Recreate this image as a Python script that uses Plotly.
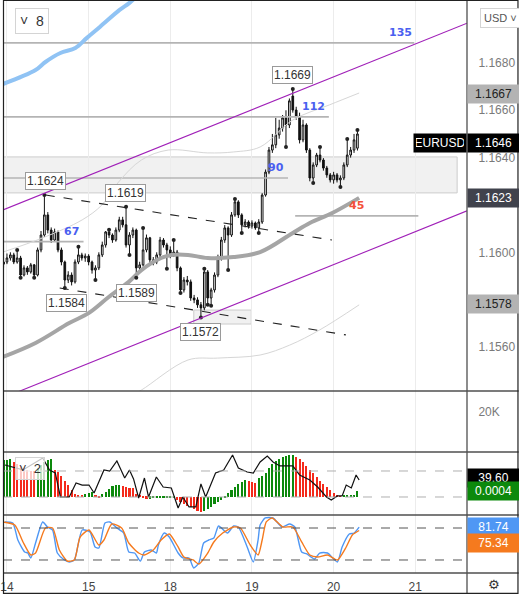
import plotly.graph_objects as go

# ---------------- candles (hourly; index 0 = start of day 14) ----------------
candle_idx = list(range(-1, 104))
opens = [1.15950, 1.15959, 1.15976, 1.15989, 1.15959, 1.15976, 1.15904, 1.15934, 1.15917, 1.15947,
         1.15904, 1.16010, 1.16073, 1.16158, 1.16094, 1.16052, 1.16086, 1.16010, 1.15959, 1.15883,
         1.15904, 1.15875, 1.15959, 1.15989, 1.15976, 1.15984, 1.15959, 1.15925, 1.15934, 1.15989,
         1.16031, 1.16086, 1.16073, 1.16052, 1.16094, 1.16137, 1.16116, 1.16031, 1.16073, 1.16094,
         1.15934, 1.15947, 1.16010, 1.16061, 1.15968, 1.15959, 1.15989, 1.16052, 1.16031, 1.16010,
         1.15989, 1.16001, 1.15934, 1.15841, 1.15883, 1.15875, 1.15807, 1.15799, 1.15778, 1.15765,
         1.15917, 1.15807, 1.15841, 1.15904, 1.15976, 1.16052, 1.16103, 1.16073, 1.16158, 1.16213,
         1.16158, 1.16116, 1.16128, 1.16111, 1.16124, 1.16103, 1.16128, 1.16242, 1.16339, 1.16432,
         1.16454, 1.16496, 1.16525, 1.16568, 1.16538, 1.16660, 1.16601, 1.16575, 1.16475, 1.16538,
         1.16432, 1.16314, 1.16369, 1.16411, 1.16390, 1.16356, 1.16327, 1.16306, 1.16327, 1.16306,
         1.16314, 1.16369, 1.16411, 1.16432, 1.16440]
highs = [1.15980, 1.15995, 1.16000, 1.15998, 1.16010, 1.15985, 1.15945, 1.15942, 1.15955, 1.15950,
         1.16020, 1.16090, 1.16242, 1.16170, 1.16105, 1.16100, 1.16092, 1.16020, 1.15965, 1.15920,
         1.15915, 1.15970, 1.16023, 1.15998, 1.15995, 1.15992, 1.15965, 1.15945, 1.16000, 1.16045,
         1.16090, 1.16095, 1.16080, 1.16105, 1.16150, 1.16150, 1.16192, 1.16085, 1.16105, 1.16100,
         1.15960, 1.16103, 1.16075, 1.16065, 1.15980, 1.16000, 1.16065, 1.16060, 1.16040, 1.16025,
         1.16052, 1.16010, 1.15940, 1.15895, 1.15900, 1.15885, 1.15820, 1.15810, 1.15790, 1.15930,
         1.15925, 1.15850, 1.15915, 1.15990, 1.16065, 1.16115, 1.16110, 1.16170, 1.16225, 1.16220,
         1.16165, 1.16140, 1.16135, 1.16135, 1.16130, 1.16140, 1.16250, 1.16350, 1.16445, 1.16500,
         1.16568, 1.16560, 1.16580, 1.16600, 1.16650, 1.16690, 1.16615, 1.16590, 1.16560, 1.16545,
         1.16440, 1.16380, 1.16420, 1.16445, 1.16398, 1.16365, 1.16335, 1.16340, 1.16335, 1.16325,
         1.16380, 1.16479, 1.16445, 1.16500, 1.16517]
lows = [1.15935, 1.15950, 1.15965, 1.15950, 1.15952, 1.15892, 1.15898, 1.15905, 1.15910, 1.15892,
        1.15898, 1.16000, 1.16065, 1.16080, 1.16040, 1.16045, 1.16000, 1.15945, 1.15849, 1.15870,
        1.15860, 1.15868, 1.15950, 1.15965, 1.15960, 1.15945, 1.15910, 1.15883, 1.15925, 1.15980,
        1.16020, 1.16060, 1.16040, 1.16045, 1.16085, 1.16105, 1.16020, 1.15989, 1.16060, 1.15892,
        1.15920, 1.15940, 1.16000, 1.15955, 1.15945, 1.15950, 1.15980, 1.16020, 1.15930, 1.15975,
        1.15980, 1.15920, 1.15828, 1.15830, 1.15860, 1.15795, 1.15785, 1.15765, 1.15725, 1.15755,
        1.15778, 1.15774, 1.15830, 1.15895, 1.15965, 1.16040, 1.15925, 1.16065, 1.16150, 1.16145,
        1.16082, 1.16105, 1.16100, 1.16100, 1.16095, 1.16082, 1.16120, 1.16235, 1.16330, 1.16420,
        1.16440, 1.16480, 1.16510, 1.16445, 1.16525, 1.16590, 1.16560, 1.16460, 1.16465, 1.16420,
        1.16300, 1.16293, 1.16360, 1.16380, 1.16345, 1.16315, 1.16295, 1.16290, 1.16295, 1.16276,
        1.16305, 1.16360, 1.16400, 1.16420, 1.16430]
closes = [1.15959, 1.15976, 1.15989, 1.15959, 1.15976, 1.15904, 1.15934, 1.15917, 1.15947, 1.15904,
          1.16010, 1.16073, 1.16158, 1.16094, 1.16052, 1.16086, 1.16010, 1.15959, 1.15883, 1.15904,
          1.15875, 1.15959, 1.15989, 1.15976, 1.15984, 1.15959, 1.15925, 1.15934, 1.15989, 1.16031,
          1.16086, 1.16073, 1.16052, 1.16094, 1.16137, 1.16116, 1.16031, 1.16073, 1.16094, 1.15934,
          1.15947, 1.16010, 1.16061, 1.15968, 1.15959, 1.15989, 1.16052, 1.16031, 1.16010, 1.15989,
          1.16001, 1.15934, 1.15841, 1.15883, 1.15875, 1.15807, 1.15799, 1.15778, 1.15765, 1.15917,
          1.15807, 1.15841, 1.15904, 1.15976, 1.16052, 1.16103, 1.16073, 1.16158, 1.16213, 1.16158,
          1.16116, 1.16128, 1.16111, 1.16124, 1.16103, 1.16128, 1.16242, 1.16339, 1.16432, 1.16454,
          1.16496, 1.16525, 1.16568, 1.16538, 1.16640, 1.16601, 1.16575, 1.16475, 1.16538, 1.16432,
          1.16314, 1.16369, 1.16411, 1.16390, 1.16356, 1.16327, 1.16306, 1.16327, 1.16306, 1.16314,
          1.16369, 1.16411, 1.16432, 1.16475, 1.16500]

# fractal dots (candle indices whose high / low carries a dot)
fractal_high_idx = [3, 11, 21, 30, 35, 40, 49, 58, 67, 84, 92, 100, 103]
fractal_low_idx = [4, 8, 17, 26, 36, 38, 47, 51, 57, 59, 60, 65, 69, 74, 82, 90, 98]

# moving averages / bands  (candle index, price)
ma_blue_idx = [-1.2, 8.4, 11.3, 15.7, 20.1, 23.5, 27.3, 33.1, 36.0, 39.5]
ma_blue_val = [1.16711, 1.16770, 1.16804, 1.16842, 1.16863, 1.16906, 1.16952, 1.17024, 1.17054, 1.17100]
ma_gray_idx = [-1.2, 8.4, 18.3, 24.1, 29.9, 35.8, 39.5, 45.3, 48.3, 53.2, 59.0, 66.6, 74.4, 84.0, 89.0, 95.6, 103.5]
ma_gray_val = [1.15558, 1.15617, 1.15701, 1.15744, 1.15811, 1.15875, 1.15925, 1.15976, 1.15989, 1.15989,
               1.15976, 1.15980, 1.16001, 1.16082, 1.16124, 1.16166, 1.16230]
band_up_idx = [-1.2, 10.5, 22.1, 27.9, 32.8, 39.5, 47.4, 59.0, 66.6, 74.4, 84.0, 94.8, 103.5]
band_up_val = [1.16001, 1.16061, 1.16137, 1.16200, 1.16297, 1.16390, 1.16432, 1.16420, 1.16424, 1.16445,
               1.16559, 1.16623, 1.16673]
band_lo_idx = [36.6, 39.5, 53.2, 61.9, 74.4, 83.1, 91.9, 103.5]
band_lo_val = [1.15397, 1.15418, 1.15545, 1.15553, 1.15566, 1.15608, 1.15672, 1.15778]

# drawn trend lines: (start idx, start price, end idx, end price)
channel_upper = [-1.168, 1.16179, 135.2, 1.16968]
channel_lower = [-1.168, 1.15385, 135.2, 1.16175]
wedge_upper = [11.4, 1.16242, 95.5, 1.16052]
wedge_lower = [15.5, 1.15849, 99.6, 1.15651]

# horizontal levels with counts
level_price = [1.16885, 1.16572, 1.16314, 1.16045, 1.16154]
level_start = [-1.168, -1.168, -1.168, -1.168, 84.7]
level_end = [119.7, 94.6, 82.6, 22.5, 120.9]
level_text = ["135", "112", "90", "67", "45"]
level_text_idx = [115.6, 90.2, 79.1, 19.0, 102.8]
level_text_color = ["#4a5ff0", "#4a5ff0", "#4a5ff0", "#4a5ff0", "#f4503a"]

# zones
zone_main = [-1.168, 1.16251, 132.3, 1.16403]
zone_small = [54.9, 1.15697, 71.8, 1.15756]

# swing labels
swing_text = ["1.1624", "1.1619", "1.1669", "1.1584", "1.1589", "1.1572"]
swing_idx = [11.4, 34.8, 84.0, 17.5, 38.0, 57.0]
swing_price = [1.16242, 1.16192, 1.16690, 1.15849, 1.15892, 1.15725]
swing_above = [True, True, True, False, False, False]

# right axis
price_ticks = [1.1560, 1.1600, 1.1640, 1.1660, 1.1680]
last_price = 1.1646
upper_band_last = 1.1667
ma_gray_last = 1.1623
lower_band_last = 1.1578

# MACD-like pane
hist_vals = [0.00211, 0.00213, 0.00215, 0.00200, 0.00189, 0.00177, 0.00166, 0.00154, 0.00149, 0.00146,
             0.00166, 0.00183, 0.00200, 0.00211, 0.00217, 0.00154, 0.00143, 0.00120, 0.00091, 0.00069,
             0.00040, 0.00017, 0.00011, 0.00009, 0.00017, 0.00023, 0.00029, 0.00006, -0.00006, 0.00017,
             0.00029, 0.00046, 0.00063, 0.00069, 0.00071, 0.00063, 0.00057, 0.00054, 0.00049, 0.00017,
             0.00006, -0.00006, -0.00011, -0.00010, -0.00008, -0.00006, -0.00005, -0.00004, -0.00003, -0.00002,
             -0.00001, -0.00017, -0.00030, -0.00042, -0.00050, -0.00059, -0.00069, -0.00078, -0.00086, -0.00078,
             -0.00069, -0.00055, -0.00042, -0.00030, -0.00017, -0.00008, 0.00021, 0.00040, 0.00059, 0.00074,
             0.00086, 0.00097, 0.00093, 0.00087, 0.00082, 0.00109, 0.00120, 0.00137, 0.00166, 0.00189,
             0.00206, 0.00217, 0.00228, 0.00234, 0.00240, 0.00242, 0.00228, 0.00217, 0.00200, 0.00177,
             0.00154, 0.00137, 0.00114, 0.00091, 0.00074, 0.00057, 0.00040, 0.00023, 0.00011, 0.00004,
             0.00006, 0.00008, 0.00010, 0.00013, 0.00035]
osc_idx = [-0.6, 4.7, 10.5, 12.5, 14.2, 15.7, 18.3, 20.3, 22.1, 24.1, 25.6, 28.5, 30.2, 32.3, 34.6, 36.0,
           37.2, 38.7, 40.4, 41.6, 43.9, 45.9, 48.3, 50.3, 51.7, 53.5, 55.5, 57.0, 58.4, 61.3, 63.7, 66.3,
           68.0, 70.6, 72.4, 74.4, 76.5, 78.2, 80.2, 84.0, 86.0, 89.0, 91.3, 93.9, 95.3, 97.1, 98.5, 99.7,
           101.2, 102.6, 103.5]
osc_val = [56.9, 51.2, 65.0, 51.2, 47.7, 20.0, 20.0, 36.2, 33.8, 33.8, 24.6, 51.2, 50.0, 61.5, 41.9, 51.2,
           40.8, 18.8, 41.9, 20.0, 43.1, 31.5, 30.4, 7.3, 20.0, 8.5, 8.5, 35.0, 20.0, 47.7, 51.2, 68.5,
           53.5, 48.8, 47.7, 60.4, 67.3, 60.4, 55.8, 55.8, 45.4, 39.6, 31.5, 20.0, 16.5, 21.2, 21.2, 33.8,
           30.4, 45.4, 39.6]
osc_levels = [20, 50]
osc_last_text = "39.60"
hist_last_text = "0.0004"

# stochastic pane
stk_idx = [-0.6, 1.7, 3.2, 5.2, 6.1, 7.0, 8.4, 10.5, 11.9, 13.4, 14.8, 16.9, 18.3, 19.8, 22.1, 24.4, 25.9,
           27.0, 28.8, 30.2, 32.3, 34.3, 35.8, 37.5, 39.2, 40.4, 42.4, 43.9, 44.5, 46.2, 47.7, 50.3, 51.7,
           53.5, 54.9, 56.4, 57.8, 59.3, 60.8, 62.2, 64.8, 66.6, 68.0, 70.6, 72.4, 73.8, 74.4, 75.9, 78.2,
           80.8, 83.1, 84.6, 86.6, 88.1, 90.4, 91.9, 94.2, 97.1, 98.5, 100.6, 102.0, 103.5]
stk_k = [91.3, 89.4, 57.5, 35.0, 33.1, 23.8, 51.9, 91.3, 81.9, 76.3, 33.1, 20.0, 16.3, 20.0, 76.3, 72.5, 44.4,
         42.5, 89.4, 91.3, 80.0, 70.6, 35.0, 33.1, 18.1, 35.0, 38.8, 33.1, 48.1, 70.6, 63.1, 33.1, 23.8,
         23.8, 5.0, 14.4, 51.9, 57.5, 61.3, 83.8, 70.6, 83.8, 81.9, 44.4, 16.3, 57.5, 85.6, 98.8, 98.8,
         81.9, 87.5, 81.9, 35.0, 31.3, 21.9, 33.1, 33.1, 16.3, 44.4, 68.8, 70.6, 81.74]
std_idx = [-1.2, 2.3, 4.7, 7.0, 8.4, 11.3, 13.4, 15.4, 17.7, 19.8, 21.5, 24.1, 27.0, 28.5, 30.8, 33.7, 35.8,
           38.7, 40.4, 43.0, 45.3, 47.7, 50.3, 52.0, 54.7, 56.4, 59.0, 60.8, 63.4, 66.6, 68.6, 71.5, 73.8,
           75.0, 76.2, 77.9, 81.1, 84.0, 86.6, 89.0, 91.3, 94.2, 97.1, 99.7, 101.5, 103.5]
std_d = [91.3, 85.6, 53.8, 29.4, 33.1, 80.0, 80.0, 38.8, 18.1, 20.0, 63.1, 76.3, 48.1, 57.5, 87.5, 80.0, 51.9,
         33.1, 29.4, 38.8, 57.5, 68.8, 44.4, 25.6, 20.0, 12.5, 33.1, 53.8, 70.6, 81.9, 80.0, 48.1, 29.4,
         57.5, 91.3, 98.8, 81.9, 81.9, 53.8, 29.4, 25.6, 29.4, 20.0, 44.4, 66.9, 75.34]
stoch_levels = [20, 80]

# day ticks
day_tick_idx = [0, 24, 48, 72, 96, 120]
day_tick_text = ["14", "15", "18", "19", "20", "21"]
vol_tick = [20000]
vol_tick_text = ["20K"]

# ---------------- layout geometry ----------------
W, H = 519, 594
MR, MB = 52, 21
PW, PH = W - MR, H - MB
X_RANGE = [-1.168, 135.2]


def py(px):  # pixel row -> paper y
    return (PH - px) / PH


D_MAIN = [py(391), 1.0]
D_VOL = [py(452), py(391)]
D_MACD = [py(515), py(452)]
D_STO = [0.0, py(515)]

FONT = "Liberation Sans, Arial, sans-serif"
GREEN, RED = "#0c890c", "#f42a1b"

fig = go.Figure()

# levels
for p, s, e in zip(level_price, level_start, level_end):
    fig.add_trace(go.Scatter(x=[s, e], y=[p, p], mode="lines", line=dict(color="#b4b4b4", width=1.6),
                             hoverinfo="skip", xaxis="x", yaxis="y"))
# bands and MAs
fig.add_trace(go.Scatter(x=band_up_idx, y=band_up_val, mode="lines", line=dict(color="#d6d6d6", width=1, shape="spline"),
                         hoverinfo="skip"))
fig.add_trace(go.Scatter(x=band_lo_idx, y=band_lo_val, mode="lines", line=dict(color="#d6d6d6", width=1, shape="spline"),
                         hoverinfo="skip"))
fig.add_trace(go.Scatter(x=ma_blue_idx, y=ma_blue_val, mode="lines", line=dict(color="#90c3f4", width=4, shape="spline"),
                         hoverinfo="skip"))
fig.add_trace(go.Scatter(x=ma_gray_idx, y=ma_gray_val, mode="lines", line=dict(color="#a5a5a5", width=4, shape="spline"),
                         hoverinfo="skip"))

# candles
fig.add_trace(go.Candlestick(x=candle_idx, open=opens, high=highs, low=lows, close=closes,
                             increasing=dict(line=dict(color="#111111", width=1), fillcolor="#ffffff"),
                             decreasing=dict(line=dict(color="#111111", width=1), fillcolor="#111111"),
                             whiskerwidth=0, hoverinfo="skip", xaxis="x", yaxis="y"))
pos = {k: n for n, k in enumerate(candle_idx)}
fig.add_trace(go.Scatter(x=fractal_high_idx + fractal_low_idx,
                         y=[highs[pos[i]] for i in fractal_high_idx] + [lows[pos[i]] for i in fractal_low_idx],
                         mode="markers", marker=dict(color="#222222", size=4), hoverinfo="skip"))

# trend lines
for ln, col, dash in [(channel_upper, "#a020b8", "solid"), (channel_lower, "#a020b8", "solid"),
                      (wedge_upper, "#222222", "dash"), (wedge_lower, "#222222", "dash")]:
    fig.add_trace(go.Scatter(x=[ln[0], ln[2]], y=[ln[1], ln[3]], mode="lines",
                             line=dict(color=col, width=1.1, dash=dash), hoverinfo="skip"))

# volume pane placeholder
fig.add_trace(go.Scatter(x=[None], y=[None], xaxis="x2", yaxis="y2", hoverinfo="skip"))

# MACD pane
hist_colors = []
for n, v in enumerate(hist_vals):
    hist_colors.append(GREEN if n == 0 or v >= hist_vals[n - 1] else RED)
fig.add_trace(go.Bar(x=candle_idx, y=hist_vals, marker=dict(color=hist_colors, line=dict(width=0)), width=0.62,
                     xaxis="x3", yaxis="y3", hoverinfo="skip"))
fig.add_trace(go.Scatter(x=osc_idx, y=osc_val, mode="lines", line=dict(color="#111111", width=1.2),
                         xaxis="x3", yaxis="y5", hoverinfo="skip"))

# stochastic pane
fig.add_trace(go.Scatter(x=stk_idx, y=stk_k, mode="lines", line=dict(color="#4f97f4", width=1.4, shape="spline", smoothing=0.6),
                         xaxis="x4", yaxis="y4", hoverinfo="skip"))
fig.add_trace(go.Scatter(x=std_idx, y=std_d, mode="lines", line=dict(color="#f57a1e", width=1.4, shape="spline", smoothing=0.6),
                         xaxis="x4", yaxis="y4", hoverinfo="skip"))

shapes = []
# zones
for z in (zone_main, zone_small):
    shapes.append(dict(type="rect", xref="x", yref="y", x0=z[0], x1=z[2], y0=z[1], y1=z[3],
                       fillcolor="rgba(225,225,225,0.45)", line=dict(color="#cccccc", width=1), layer="below"))
# level dashes
for lv in osc_levels:
    shapes.append(dict(type="line", xref="paper", yref="y5", x0=0, x1=1, y0=lv, y1=lv,
                       line=dict(color="#b0b0b0", width=1, dash="dash")))
for lv in stoch_levels:
    shapes.append(dict(type="line", xref="paper", yref="y4", x0=0, x1=1, y0=lv, y1=lv,
                       line=dict(color="#555555", width=1, dash="dash")))
# pane separators and frame
XR = W / PW
for yy in (py(391), py(452), py(515), 0.0):
    shapes.append(dict(type="line", xref="paper", yref="paper", x0=0, x1=XR, y0=yy, y1=yy,
                       line=dict(color="#4f4f4f", width=1.3)))
shapes.append(dict(type="line", xref="paper", yref="paper", x0=1, x1=1, y0=-MB / PH, y1=1,
                   line=dict(color="#4f4f4f", width=1.3)))
shapes.append(dict(type="rect", xref="paper", yref="paper", x0=0.5 / PW, x1=(W - 0.7) / PW,
                   y0=-(MB - 0.7) / PH, y1=1 - 0.5 / PH, line=dict(color="#222222", width=1.2)))

ann = []
# level counts
for t, xi, p, c in zip(level_text, level_text_idx, level_price, level_text_color):
    ann.append(dict(x=xi, y=p, xref="x", yref="y", text="<b>%s</b>" % t, showarrow=False, yshift=10,
                    font=dict(family="DejaVu Sans, Verdana, sans-serif", size=11, color=c)))
# swing labels
for t, xi, p, up in zip(swing_text, swing_idx, swing_price, swing_above):
    ann.append(dict(x=xi, y=p, xref="x", yref="y", text=t, showarrow=False,
                    yanchor="bottom" if up else "top", yshift=5 if up else -6,
                    font=dict(family=FONT, size=12, color="#333333"), bgcolor="#ffffff",
                    bordercolor="#9a9a9a", borderwidth=1, borderpad=1))


def axis_label(y, yref, text, bg, fg, yshift=0):
    return dict(x=1, xref="paper", y=y, yref=yref, xanchor="left", text=text, showarrow=False,
                yshift=yshift, width=47, align="center", bgcolor=bg, borderpad=2,
                font=dict(family=FONT, size=12, color=fg))


ann.append(axis_label(upper_band_last, "y", "%.4f" % upper_band_last, "#b3b3b3", "#222222"))
ann.append(axis_label(ma_gray_last, "y", "%.4f" % ma_gray_last, "#40424c", "#ffffff"))
ann.append(axis_label(lower_band_last, "y", "%.4f" % lower_band_last, "#b3b3b3", "#222222"))
ann.append(axis_label(last_price, "y", "%.4f" % last_price, "#000000", "#ffffff"))
ann.append(dict(x=1, xref="paper", y=last_price, yref="y", xanchor="right", text="EURUSD", showarrow=False,
                width=48, align="center", bgcolor="#000000", borderpad=2,
                font=dict(family=FONT, size=12, color="#ffffff")))
ann.append(axis_label(osc_val[-1], "y5", osc_last_text, "#000000", "#ffffff", yshift=2))
ann.append(axis_label(hist_vals[-1], "y3", hist_last_text, GREEN, "#ffffff"))
ann.append(axis_label(stk_k[-1], "y4", "%.2f" % stk_k[-1], "#4f97f4", "#ffffff"))
ann.append(axis_label(std_d[-1], "y4", "%.2f" % std_d[-1], "#f57a1e", "#ffffff", yshift=-13))
# legend toggles
ann.append(dict(x=12 / PW, xref="paper", y=py(21), yref="paper", xanchor="left", yanchor="middle",
                text="˅  8", showarrow=False, bgcolor="#ffffff", bordercolor="#d4d4d4", borderwidth=1,
                borderpad=4, font=dict(family=FONT, size=14, color="#333333")))
ann.append(dict(x=12 / PW, xref="paper", y=py(468), yref="paper", xanchor="left", yanchor="middle",
                text="˅  2", showarrow=False, bgcolor="rgba(255,255,255,0.75)", bordercolor="#d4d4d4",
                borderwidth=1, borderpad=3, font=dict(family=FONT, size=13, color="#333333")))
ann.append(dict(x=480 / PW, xref="paper", y=py(18), yref="paper", xanchor="left", yanchor="middle",
                text="USD ˅", showarrow=False, bgcolor="#ffffff", bordercolor="#d4d4d4", borderwidth=1,
                borderpad=3, font=dict(family=FONT, size=11, color="#555555")))
# settings gear
ann.append(dict(x=494 / PW, xref="paper", y=py(584), yref="paper", xanchor="center", yanchor="middle",
                text="⚙", showarrow=False, font=dict(family="DejaVu Sans", size=13, color="#333333")))

xcommon = dict(range=X_RANGE, tickmode="array", tickvals=day_tick_idx, ticktext=day_tick_text,
               showgrid=True, gridcolor="#ececec", gridwidth=1, zeroline=False, showline=False,
               fixedrange=True)
ycommon = dict(side="right", zeroline=False, showgrid=False, showline=False, fixedrange=True)

fig.update_layout(
    width=W, height=H, margin=dict(l=0, r=MR, t=0, b=MB),
    paper_bgcolor="#ffffff", plot_bgcolor="#ffffff", showlegend=False,
    font=dict(family=FONT, color="#666666"),
    xaxis=dict(xcommon, anchor="y", showticklabels=False, rangeslider=dict(visible=False)),
    xaxis2=dict(xcommon, anchor="y2", showticklabels=False),
    xaxis3=dict(xcommon, anchor="y3", showticklabels=False),
    xaxis4=dict(xcommon, anchor="y4", showticklabels=True, ticks="", ticklabeloverflow="allow",
                ticklabelstandoff=5, tickfont=dict(family=FONT, size=12, color="#444444")),
    yaxis=dict(ycommon, domain=D_MAIN, anchor="x", range=[1.15414, 1.17066], tickmode="array",
               tickvals=price_ticks, ticktext=["%.4f" % t for t in price_ticks], ticks="outside",
               ticklen=8, tickcolor="rgba(0,0,0,0)", tickfont=dict(family=FONT, size=12, color="#7a7a7a")),
    yaxis2=dict(ycommon, domain=D_VOL, anchor="x2", range=[0, 30000], tickmode="array", tickvals=vol_tick,
                ticktext=vol_tick_text, ticks="outside", ticklen=8, tickcolor="rgba(0,0,0,0)",
                tickfont=dict(family=FONT, size=12, color="#7a7a7a")),
    yaxis3=dict(ycommon, domain=D_MACD, anchor="x3", range=[-0.00103, 0.00257], showticklabels=False),
    yaxis5=dict(ycommon, overlaying="y3", anchor="x3", range=[-0.77, 71.9], showticklabels=False),
    yaxis4=dict(ycommon, domain=D_STO, anchor="x4", range=[-4.4, 104.4], showticklabels=False),
    shapes=shapes, annotations=ann, bargap=0,
)

fig.write_html("out.html", include_plotlyjs=True, config={"displayModeBar": False},
               post_script="document.body.style.margin='0';document.body.style.overflow='hidden';")
